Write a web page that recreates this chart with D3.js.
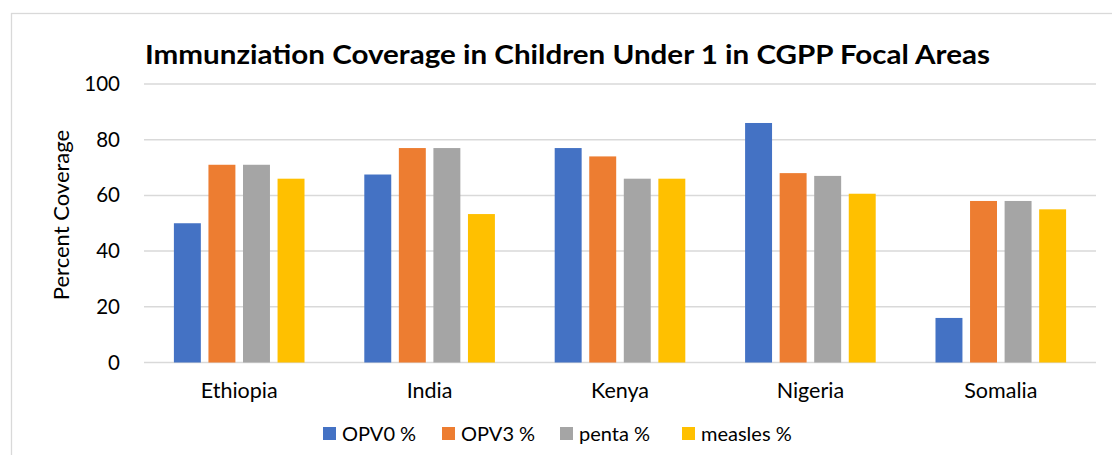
<!DOCTYPE html>
<html>
<head>
<meta charset="utf-8">
<script src="https://cdn.jsdelivr.net/npm/d3@7"></script>
<style>
  body { margin: 0; background: #fff; }
  svg { display: block; }
</style>
</head>
<body>
<div id="chart"></div>
<script>
const countries = ['Ethiopia', 'India', 'Kenya', 'Nigeria', 'Somalia'];
const seriesNames = ['OPV0 %', 'OPV3 %', 'penta %', 'measles %'];
const opv0 = [50, 67.5, 77, 86, 16];
const opv3 = [71, 77, 74, 68, 58];
const penta = [71, 77, 66, 67, 58];
const measles = [66, 53.3, 66, 60.6, 55];
const yTicks = [0, 20, 40, 60, 80, 100];

const seriesValues = [opv0, opv3, penta, measles];
const rows = countries.map((c, i) => ({
    country: c,
    values: seriesNames.map((s, j) => ({ key: s, value: seriesValues[j][i] }))
}));

const width = 1112;
const height = 455;
const margin = { top: 84, right: 16, bottom: 92.5, left: 144 };
const font = 'Lato, Carlito, Calibri, sans-serif';

const color = d3.scaleOrdinal()
    .domain(seriesNames)
    .range(['#4472c4', '#ed7d31', '#a5a5a5', '#ffc000']);

const x0 = d3.scaleBand()
    .domain(countries)
    .range([margin.left, width - margin.right])
    .paddingInner(0.314)
    .paddingOuter(0.157);

const x1 = d3.scaleBand()
    .domain(seriesNames)
    .range([0, x0.bandwidth()])
    .paddingInner(0.22);

const y = d3.scaleLinear()
    .domain([0, 100])
    .range([height - margin.bottom, margin.top]);

const svg = d3.select('#chart')
    .append('svg')
    .attr('width', width)
    .attr('height', height);

// frame
svg.append('rect')
    .attr('x', 11.5)
    .attr('y', 13.5)
    .attr('width', width + 10)
    .attr('height', height + 10)
    .attr('fill', 'none')
    .attr('stroke', '#d9d9d9')
    .attr('stroke-width', 1.3);

// gridlines
svg.append('g')
    .selectAll('line')
    .data(yTicks)
    .join('line')
    .attr('x1', margin.left)
    .attr('x2', width - margin.right)
    .attr('y1', d => y(d))
    .attr('y2', d => y(d))
    .attr('stroke', '#d9d9d9')
    .attr('stroke-width', 1.5);

// y axis labels
const yAxis = svg.append('g')
    .attr('transform', `translate(${margin.left}, 0)`)
    .call(d3.axisLeft(y).tickValues(yTicks).tickSize(0).tickPadding(24));
yAxis.select('.domain').remove();
yAxis.selectAll('text')
    .attr('font-family', font)
    .attr('font-size', '20.5px')
    .attr('fill', '#000');

// x axis labels
const xAxis = svg.append('g')
    .attr('transform', `translate(0, ${height - margin.bottom})`)
    .call(d3.axisBottom(x0).tickSize(0).tickPadding(20));
xAxis.select('.domain').remove();
xAxis.selectAll('text')
    .attr('font-family', font)
    .attr('font-size', '21.5px')
    .attr('fill', '#000');

// y axis title
svg.append('text')
    .attr('transform', 'translate(69, 215) rotate(-90)')
    .attr('text-anchor', 'middle')
    .attr('font-family', font)
    .attr('font-size', '22px')
    .attr('fill', '#000')
    .text('Percent Coverage');

// title
svg.append('text')
    .attr('x', 145)
    .attr('y', 64)
    .attr('font-family', font)
    .attr('font-weight', 'bold')
    .attr('font-size', '27px')
    .attr('fill', '#000')
    .attr('textLength', 845)
    .attr('lengthAdjust', 'spacingAndGlyphs')
    .text('Immunziation Coverage in Children Under 1 in CGPP Focal Areas');

// bars
svg.append('g')
    .selectAll('g')
    .data(rows)
    .join('g')
    .attr('transform', d => `translate(${x0(d.country)}, 0)`)
    .selectAll('rect')
    .data(d => d.values)
    .join('rect')
    .attr('x', d => x1(d.key))
    .attr('y', d => y(d.value))
    .attr('width', x1.bandwidth())
    .attr('height', d => y(0) - y(d.value))
    .attr('fill', d => color(d.key));

// legend
const legendX = [323, 442, 560, 682];
const legend = svg.append('g')
    .selectAll('g')
    .data(seriesNames)
    .join('g')
    .attr('transform', (d, i) => `translate(${legendX[i]}, 434)`);

legend.append('rect')
    .attr('x', 0)
    .attr('y', -7)
    .attr('width', 13)
    .attr('height', 13)
    .attr('fill', d => color(d));

legend.append('text')
    .attr('x', 19)
    .attr('y', 7)
    .attr('font-family', font)
    .attr('font-size', '20px')
    .attr('fill', '#000')
    .text(d => d);
</script>
</body>
</html>
